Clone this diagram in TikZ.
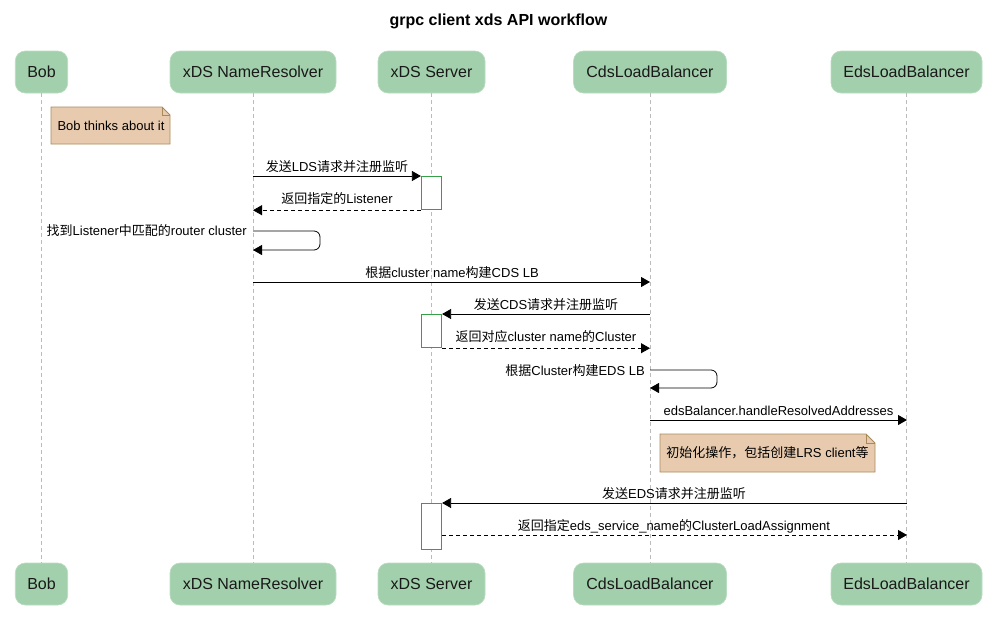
\documentclass[tikz,border=0pt]{standalone}
\usepackage{fontspec}
\setmainfont{Liberation Sans}
\newfontfamily\cjk{Noto Sans CJK SC}
\usetikzlibrary{arrows.meta,shapes.misc}
\definecolor{partfill}{HTML}{A3D0AC}
\definecolor{partdraw}{HTML}{B8DCC0}
\definecolor{notefill}{HTML}{E8CBAF}
\definecolor{notedraw}{HTML}{A88A5A}
\definecolor{actdraw}{HTML}{36A048}
\definecolor{lifegray}{HTML}{BBBBBB}
\tikzset{
  part/.style={rectangle, rounded corners=10pt, fill=partfill, draw=partdraw, line width=0.6pt,
    minimum height=42pt, inner xsep=12pt, font=\fontsize{16}{19}\selectfont, text=black!90},
  life/.style={draw=lifegray, dashed, dash pattern=on 4pt off 3pt, line width=0.8pt},
  act/.style={draw=actdraw, fill=white, line width=1.2pt},
  msg/.style={draw=black, line width=0.8pt, -{Triangle[length=9pt,width=10pt]}},
  ret/.style={msg, dash pattern=on 4pt off 3pt},
  lbl/.style={font=\fontsize{13}{15}\selectfont, inner sep=0pt, anchor=base},
  notebox/.style={fill=notefill, draw=notedraw, line width=0.8pt},
}
\begin{document}
\begin{tikzpicture}[x=1pt,y=-1pt]
\useasboundingbox (0,0) rectangle (997,630);
% title
\node[font=\fontsize{16}{19}\selectfont\bfseries] (title) at (498.5,21) {grpc client xds API workflow};
% participants top
\node[part, minimum width=52pt] (bobT) at (41.5,72) {Bob};
\node[part, minimum width=166pt] (nrT) at (253,72) {xDS NameResolver};
\node[part, minimum width=107pt] (srvT) at (431.5,72) {xDS Server};
\node[part, minimum width=153pt] (cdsT) at (650,72) {CdsLoadBalancer};
\node[part, minimum width=151pt] (edsT) at (906.5,72) {EdsLoadBalancer};
% participants bottom
\node[part, minimum width=52pt] (bobB) at (41.5,584) {Bob};
\node[part, minimum width=166pt] (nrB) at (253,584) {xDS NameResolver};
\node[part, minimum width=107pt] (srvB) at (431.5,584) {xDS Server};
\node[part, minimum width=153pt] (cdsB) at (650,584) {CdsLoadBalancer};
\node[part, minimum width=151pt] (edsB) at (906.5,584) {EdsLoadBalancer};
% lifelines
\foreach \p in {bob,nr,srv,cds,eds}{
  \draw[life] (\p T.south) -- (\p B.north);
}
% note Bob
\path[notebox] (51,107) -- (162,107) -- (170,115) -- (170,144) -- (51,144) -- cycle;
\draw[notedraw, line width=0.8pt] (162,107) -- (162,115) -- (170,115);
\node[lbl] (note1) at (111,130) {Bob thinks about it};
% activations
\node[act, minimum width=20pt, minimum height=33pt, inner sep=0pt, anchor=north] (a1) at (431.5,176) {};
\node[act, minimum width=20pt, minimum height=33pt, inner sep=0pt, anchor=north] (a2) at (431.5,314) {};
\node[act, minimum width=20pt, minimum height=46pt, inner sep=0pt, anchor=north] (a3) at (431.5,503) {};
% message 1
\coordinate (m1s) at (nrT.south |- a1.north west);
\draw[msg] (m1s) -- (a1.north west);
\node[lbl] at (337,171) {{\cjk 发送}LDS{\cjk 请求并注册监听}};
% message 2
\coordinate (m2e) at (nrT.south |- a1.south west);
\draw[ret] (a1.south west) -- (m2e);
\node[lbl] at (337,203.5) {{\cjk 返回指定的}Listener};
% self 1
\coordinate (s1a) at (253,231);
\coordinate (s1b) at (253,250);
\draw[msg, rounded corners=6pt] (s1a) -- (320,231) -- (320,250) -- (s1b);
\node[lbl, anchor=base east] at (247,235.5) {{\cjk 找到}Listener{\cjk 中匹配的}router cluster};
% message 4
\coordinate (m4s) at (253,282);
\coordinate (m4e) at (650,282);
\draw[msg] (m4s) -- (m4e);
\node[lbl] at (452,277) {{\cjk 根据}cluster name{\cjk 构建}CDS LB};
% message 5
\coordinate (m5s) at (cdsT.south |- a2.north east);
\draw[msg] (m5s) -- (a2.north east);
\node[lbl] at (546,309) {{\cjk 发送}CDS{\cjk 请求并注册监听}};
% message 6
\coordinate (m6e) at (cdsT.south |- a2.south east);
\draw[ret] (a2.south east) -- (m6e);
\node[lbl] at (546,341.5) {{\cjk 返回对应}cluster name{\cjk 的}Cluster};
% self 2
\coordinate (s2a) at (650,370);
\coordinate (s2b) at (650,388);
\draw[msg, rounded corners=6pt] (s2a) -- (717,370) -- (717,388) -- (s2b);
\node[lbl, anchor=base east] at (645,375) {{\cjk 根据}Cluster{\cjk 构建}EDS LB};
% message 8
\coordinate (m8s) at (650,420);
\coordinate (m8e) at (907,420);
\draw[msg] (m8s) -- (m8e);
\node[lbl] at (778.5,415) {edsBalancer.handleResolvedAddresses};
% note 2
\path[notebox] (660,434) -- (866,434) -- (875,443) -- (875,472) -- (660,472) -- cycle;
\draw[notedraw, line width=0.8pt] (866,434) -- (866,443) -- (875,443);
\node[lbl] (note2) at (767.5,457) {{\cjk 初始化操作，包括创建}LRS client{\cjk 等}};
% message 9
\coordinate (m9s) at (edsT.south |- a3.north east);
\draw[msg] (m9s) -- (a3.north east);
\node[lbl] at (674,498) {{\cjk 发送}EDS{\cjk 请求并注册监听}};
% message 10
\coordinate (m10e) at (907,535);
\draw[ret] (a3.east |- m10e) -- (m10e);
\node[lbl] at (674,530) {{\cjk 返回指定}eds\_service\_name{\cjk 的}ClusterLoadAssignment};
\end{tikzpicture}
\end{document}
